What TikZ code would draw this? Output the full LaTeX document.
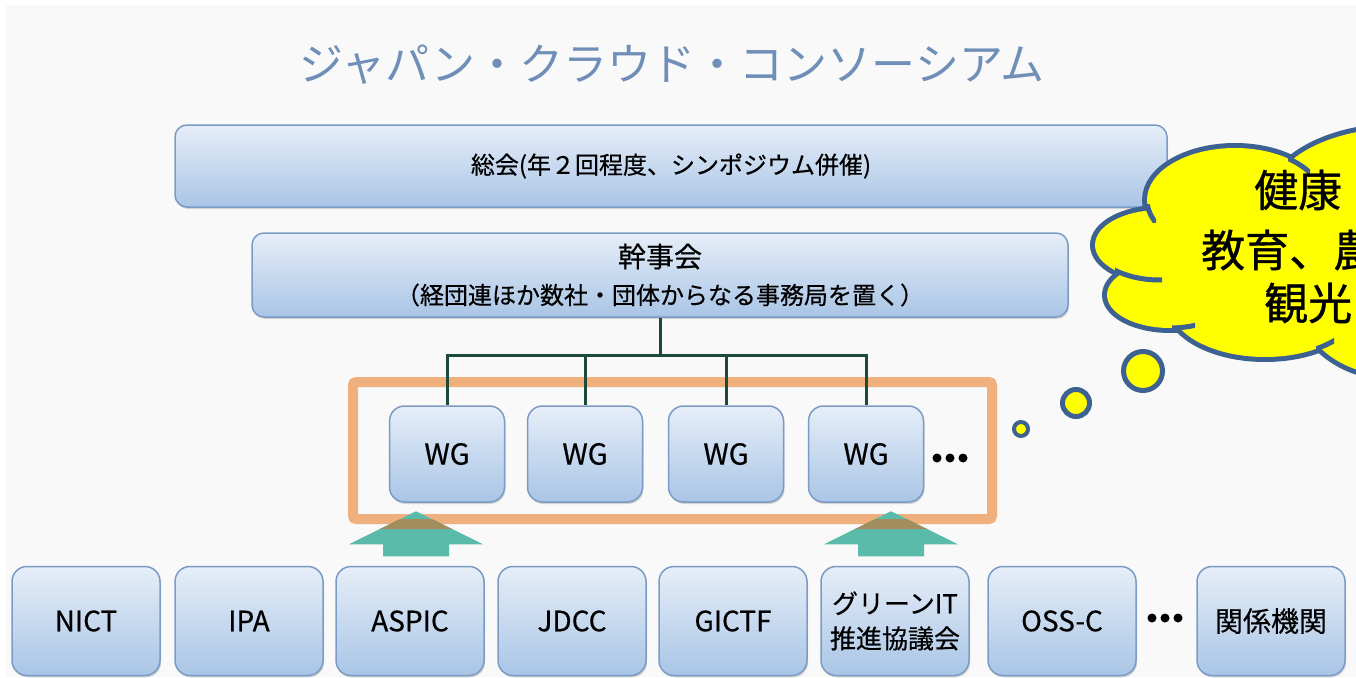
\documentclass[tikz,border=0pt]{standalone}
\usepackage{fontspec}
\setmainfont{Noto Sans CJK JP}
\newfontfamily\boxfont{Noto Sans CJK JP}[FakeBold=0.5]
\newfontfamily\cloudfont{Noto Sans CJK JP}[FakeBold=0.8]
\usetikzlibrary{shadows}

\definecolor{bggray}{HTML}{F9F9F9}
\definecolor{titleblue}{HTML}{6F8FB8}
\definecolor{boxtop}{HTML}{E6EEF8}
\definecolor{boxbot}{HTML}{A9C5E6}
\definecolor{boxline}{HTML}{7B9BC4}
\definecolor{treegreen}{HTML}{1E4A3A}
\definecolor{frameorange}{HTML}{F0B07E}
\definecolor{arrowteal}{HTML}{5ABBAB}
\definecolor{overlapolive}{HTML}{A38D5C}
\definecolor{cloudyellow}{HTML}{FFFF00}
\definecolor{cloudline}{HTML}{3D6190}

\begin{document}
\begin{tikzpicture}[x=1pt, y=-1pt,
    box/.style={draw=boxline, line width=1.5pt, rounded corners=12pt, top color=boxtop, bottom color=boxbot,
      drop shadow={shadow xshift=1pt, shadow yshift=-2pt, opacity=0.3}, text=black, inner sep=0pt, align=center},
    bigbox/.style={box, minimum height=82pt},
    wgbox/.style={box, rounded corners=15pt, minimum width=115pt, minimum height=96pt, font=\boxfont\fontsize{29}{32}\selectfont},
    orgbox/.style={box, rounded corners=15pt, minimum width=148pt, minimum height=109pt, font=\boxfont\fontsize{28}{32}\selectfont},
    tree/.style={treegreen, line width=3pt},
    wgframe/.style={draw=frameorange, line width=10pt, rounded corners=3pt, minimum width=639pt, minimum height=137pt, inner sep=0pt},
    bubble/.style={draw=cloudline, line width=5pt, fill=cloudyellow},
    cloudtext/.style={font=\cloudfont\fontsize{44}{50}\selectfont, anchor=west, inner sep=0pt},
    uparr/.pic={
      \fill[arrowteal] (-33,0) -- (-33,-12) -- (-67,-12) -- (0,-45) -- (67,-12) -- (33,-12) -- (33,0) -- cycle;
      \clip (-33,0) -- (-33,-12) -- (-67,-12) -- (0,-45) -- (67,-12) -- (33,-12) -- (33,0) -- cycle;
      \draw[draw=overlapolive, line width=10pt, rounded corners=3pt] (frame.south west) rectangle (frame.north east);
    },
  ]
  \useasboundingbox (0,0) rectangle (1356,677);
  \clip (0,0) rectangle (1356,677);
  \fill[white] (0,0) rectangle (1356,677);
  \fill[bggray] (6,5) rectangle (1356,677);

  % --- Title ---
  \node[font=\fontsize{44}{50}\selectfont, text=titleblue] (title) at (672,65) {ジャパン・クラウド・コンソーシアム};

  % --- Upper boxes ---
  \node[bigbox, minimum width=992pt, font=\boxfont\fontsize{24}{28}\selectfont] (soukai) at (671,166) {総会(年２回程度、シンポジウム併催)};
  \node[bigbox, minimum width=816pt, minimum height=84pt, font=\boxfont\fontsize{24}{37}\selectfont] (kanji) at (660,275)
    {{\fontsize{28}{37}\selectfont 幹事会}\\（経団連ほか数社・団体からなる事務局を置く）};

  % --- WG frame ---
  \node[wgframe] (frame) at (672.5,450.5) {};
  \node[wgbox] (wg1) at (447,454) {WG};
  \node[wgbox] (wg2) at (585,454) {WG};
  \node[wgbox] (wg3) at (726,454) {WG};
  \node[wgbox] (wg4) at (866,454) {WG};
  \foreach \dx in {0,13,26}
    \fill[black] (937+\dx,458) circle[radius=4.5];

  % --- Tree ---
  \draw[tree] (kanji.south) -- ++(0,38) coordinate (fork);
  \foreach \i in {1,...,4}
    \draw[tree] (fork) -| (wg\i.north);

  % --- Members ---
  \node[orgbox] (nict) at (86,621) {NICT};
  \node[orgbox] (ipa) at (249,621) {IPA};
  \node[orgbox] (aspic) at (410,621) {ASPIC};
  \node[orgbox] (jdcc) at (572,621) {JDCC};
  \node[orgbox] (gictf) at (733,621) {GICTF};
  \node[orgbox, font=\boxfont\fontsize{26}{35}\selectfont] (green) at (895,621) {グリーンIT\\推進協議会};
  \node[orgbox] (ossc) at (1062,621) {OSS-C};
  \node[orgbox] (kankei) at (1271,621) {関係機関};
  \foreach \dx in {0,13,26}
    \fill[black] (1152+\dx,618) circle[radius=4.5];

  % --- Arrows into WG ---
  \pic at ([shift={(6,-9.5)}]aspic.north) {uparr};
  \pic at ([shift={(-4,-9.5)}]green.north) {uparr};

  % --- Cloud ---
  \foreach \cx/\cy/\rx/\ry in {1235/200/88/52, 1160/245/65/35, 1170/295/63/33, 1265/305/95/52, 1400/200/130/72, 1390/290/95/85}
    \draw[cloudline, line width=10pt, fill=cloudyellow] (\cx,\cy) ellipse[x radius=\rx, y radius=\ry];
  \foreach \cx/\cy/\rx/\ry in {1235/200/88/52, 1160/245/65/35, 1170/295/63/33, 1265/305/95/52, 1400/200/130/72, 1390/290/95/85, 1250/250/90/60}
    \fill[cloudyellow] (\cx,\cy) ellipse[x radius=\rx, y radius=\ry];
  \foreach \cx/\cy/\rx/\ry/\ax/\ay/\bx/\by in {1235/200/88/52/1288/148/1310/175, 1235/200/88/52/1144/204/1156/222,
      1160/245/65/35/1115/265/1162/286, 1170/295/63/33/1172/318/1195/334, 1265/305/95/52/1316/334/1334/352}
  {
    \begin{scope}
      \clip (\ax,\ay) rectangle (\bx,\by);
      \draw[cloudline, line width=5pt] (\cx,\cy) ellipse[x radius=\rx, y radius=\ry];
    \end{scope}
  }
  \node[cloudtext] (cl1) at (1254,190) {健康};
  \node[cloudtext] (cl2) at (1201,250) {教育、農};
  \node[cloudtext] (cl3) at (1264,303) {観光};

  % --- Bubbles ---
  \draw[bubble] (1143,371) circle[radius=19.5];
  \draw[bubble] (1076,403) circle[radius=13.5];
  \draw[bubble, line width=4pt] (1021,429) circle[radius=7];

\end{tikzpicture}
\end{document}
